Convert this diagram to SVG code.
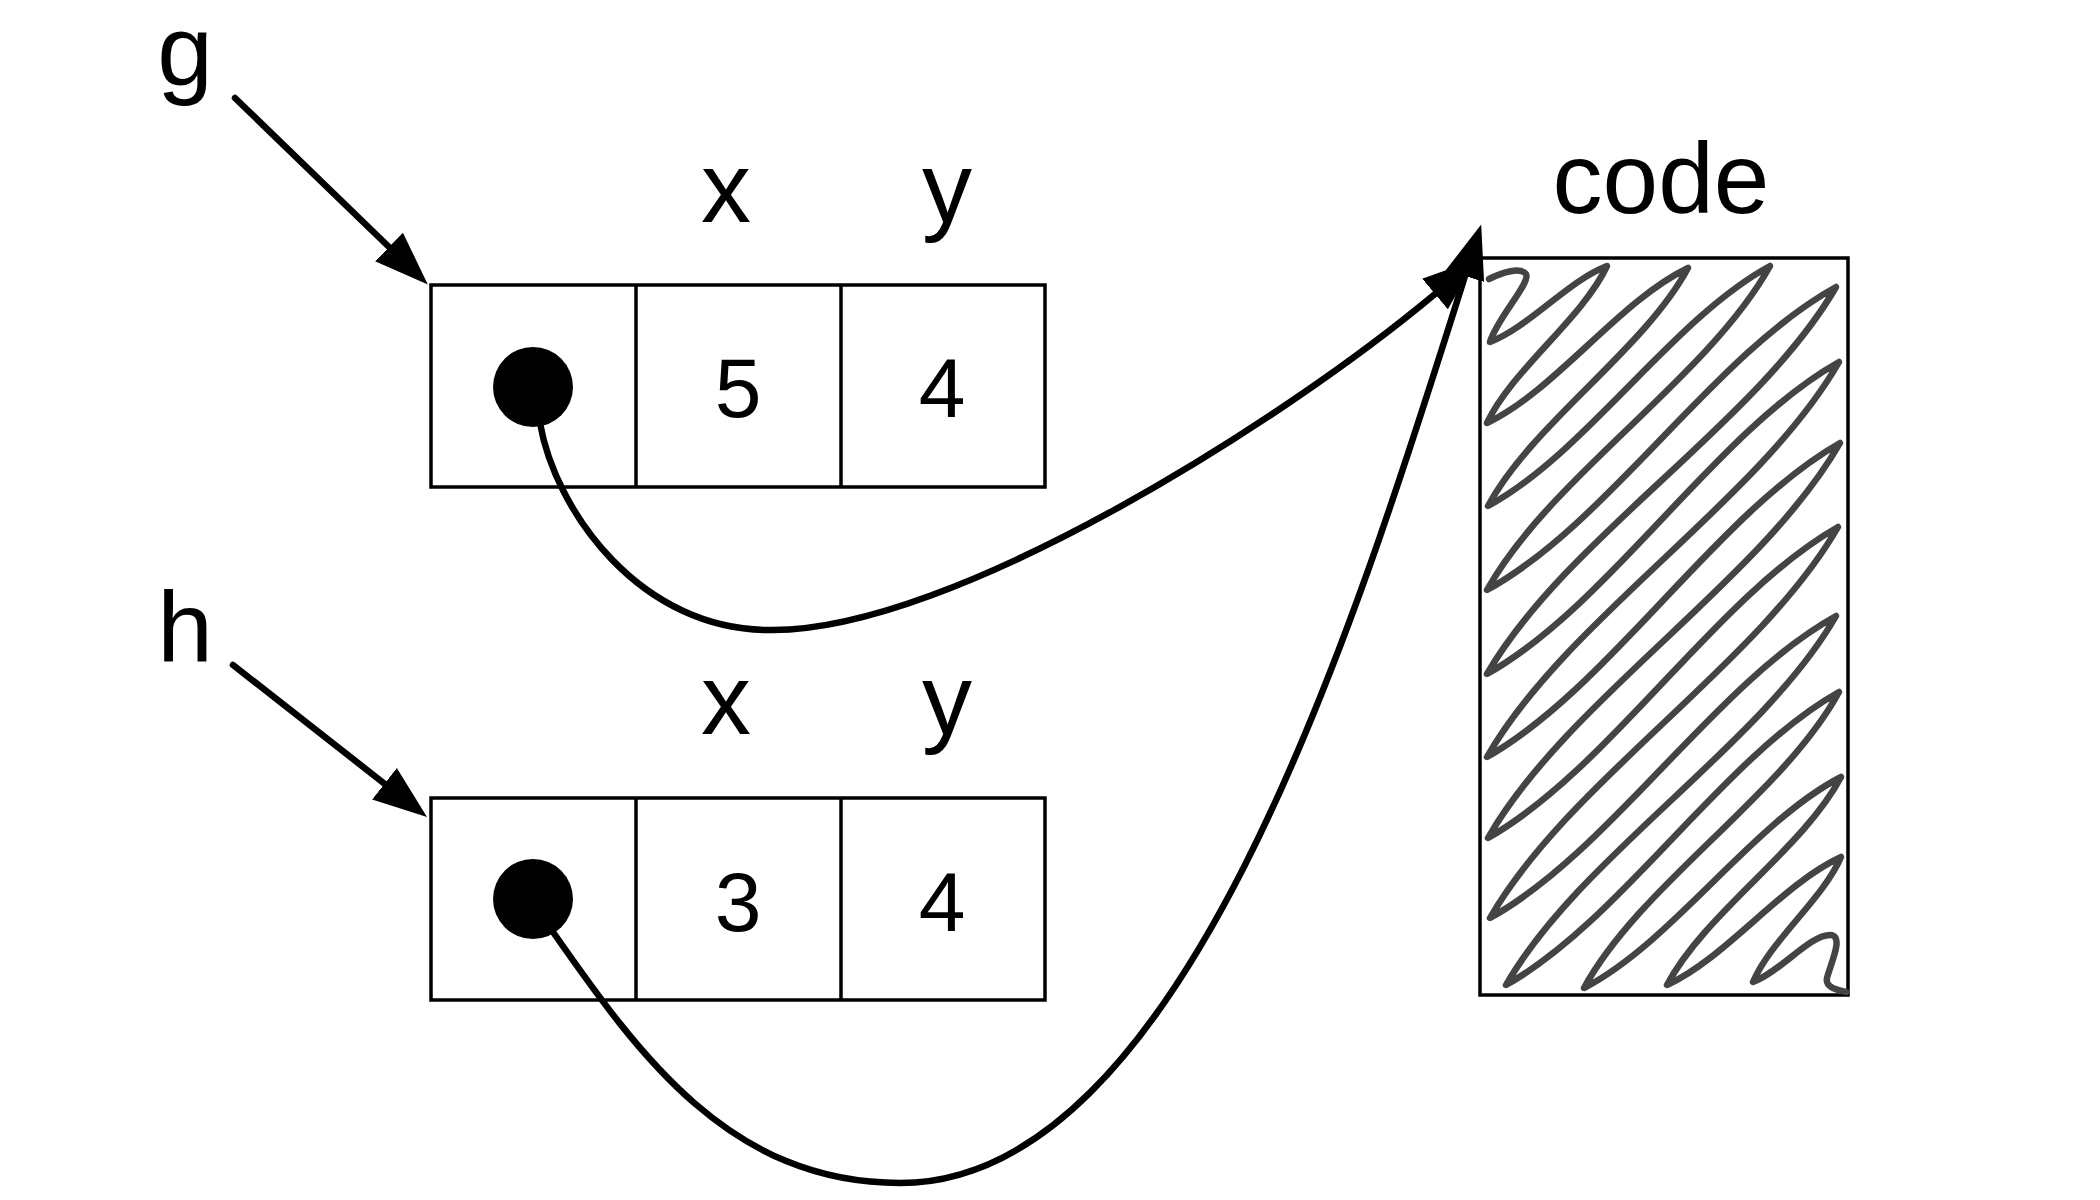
<svg xmlns="http://www.w3.org/2000/svg" width="2100" height="1200" viewBox="0 0 2100 1200">
<style>
  .lbl { font-family: "Liberation Sans", Arial, sans-serif; font-size: 100px; fill: #000; text-anchor: middle; }
  .num { font-family: "Liberation Sans", Arial, sans-serif; font-size: 84px; fill: #000; text-anchor: middle; }
  .cell { fill: #fff; stroke: #000; stroke-width: 3.5; }
  .div { stroke: #000; stroke-width: 3.5; }
  .dot { fill: #000; }
  .conn { fill: none; stroke: #000; stroke-width: 6.5; stroke-linecap: round; }
  .scrib { fill: none; stroke: #444; stroke-width: 6.5; stroke-linejoin: round; stroke-linecap: round; }
</style>
<defs>
  <marker id="ah" markerUnits="userSpaceOnUse" markerWidth="60" markerHeight="50" viewBox="0 -25 60 50" refX="0" refY="0" orient="auto">
    <path d="M0,-20 L54,0 L0,20 Z" fill="#000"/>
  </marker>
</defs>
<rect x="0" y="0" width="2100" height="1200" fill="#fff"/>

<g id="label-g"><text class="lbl" x="185" y="85">g</text></g>
<g id="label-h"><text class="lbl" x="185" y="662">h</text></g>

<g id="obj-g">
  <rect class="cell" x="431" y="285" width="614" height="202"/>
  <line class="div" x1="636" y1="285" x2="636" y2="487"/>
  <line class="div" x1="841" y1="285" x2="841" y2="487"/>
  <circle class="dot" cx="533" cy="387" r="40"/>
  <text class="lbl" x="726" y="222">x</text>
  <text class="lbl" x="947" y="222">y</text>
  <text class="num" x="738" y="417">5</text>
  <text class="num" x="942" y="417">4</text>
</g>

<g id="obj-h">
  <rect class="cell" x="431" y="798" width="614" height="202"/>
  <line class="div" x1="636" y1="798" x2="636" y2="1000"/>
  <line class="div" x1="841" y1="798" x2="841" y2="1000"/>
  <circle class="dot" cx="533" cy="899" r="40"/>
  <text class="lbl" x="726" y="734">x</text>
  <text class="lbl" x="947" y="734">y</text>
  <text class="num" x="738" y="931">3</text>
  <text class="num" x="942" y="931">4</text>
</g>

<g id="code">
  <text class="lbl" x="1661" y="213">code</text>
  <rect class="cell" x="1480" y="258" width="368" height="737"/>
  <path class="scrib" d="M1489,279 C1503,272 1520,267 1526,274 C1531,283 1497,318 1490,342
    C1529,327 1568,281 1607,266
    C1582,319 1512,370 1487,423
    C1556,390 1619,301 1688,268
    C1644,350 1532,424 1488,506
    C1586,453 1672,319 1770,266
    C1707,379 1550,477 1487,590
    C1609,523 1714,354 1836,287
    C1758,422 1565,539 1487,674
    C1610,605 1716,431 1839,362
    C1760,500 1566,619 1487,757
    C1610,687 1717,513 1840,443
    C1761,581 1567,700 1488,838
    C1611,768 1715,597 1838,527
    C1760,663 1568,782 1490,918
    C1611,851 1715,683 1836,616
    C1762,745 1580,856 1506,985
    C1622,920 1723,757 1839,692
    C1783,795 1640,885 1584,988
    C1673,942 1752,823 1841,777
    C1803,849 1705,913 1667,985
    C1726,958 1782,884 1841,857
    C1823,899 1771,940 1753,982
    C1780,972 1810,935 1830,935
    C1845,935 1830,965 1827,978
    C1825,988 1838,990 1846,992"/>
</g>

<g id="connectors">
  <line class="conn" x1="235" y1="98" x2="389" y2="247" marker-end="url(#ah)"/>
  <line class="conn" x1="233" y1="665" x2="384.5" y2="783.7" marker-end="url(#ah)"/>
  <path class="conn" d="M540,423 C555,510 640,632 773,630 C953,630 1282,422 1435,294" marker-end="url(#ah)"/>
  <path class="conn" d="M553,932 C639,1055 730,1183 900,1183 C1180,1183 1351,638.5 1465,276" marker-end="url(#ah)"/>
</g>
</svg>
